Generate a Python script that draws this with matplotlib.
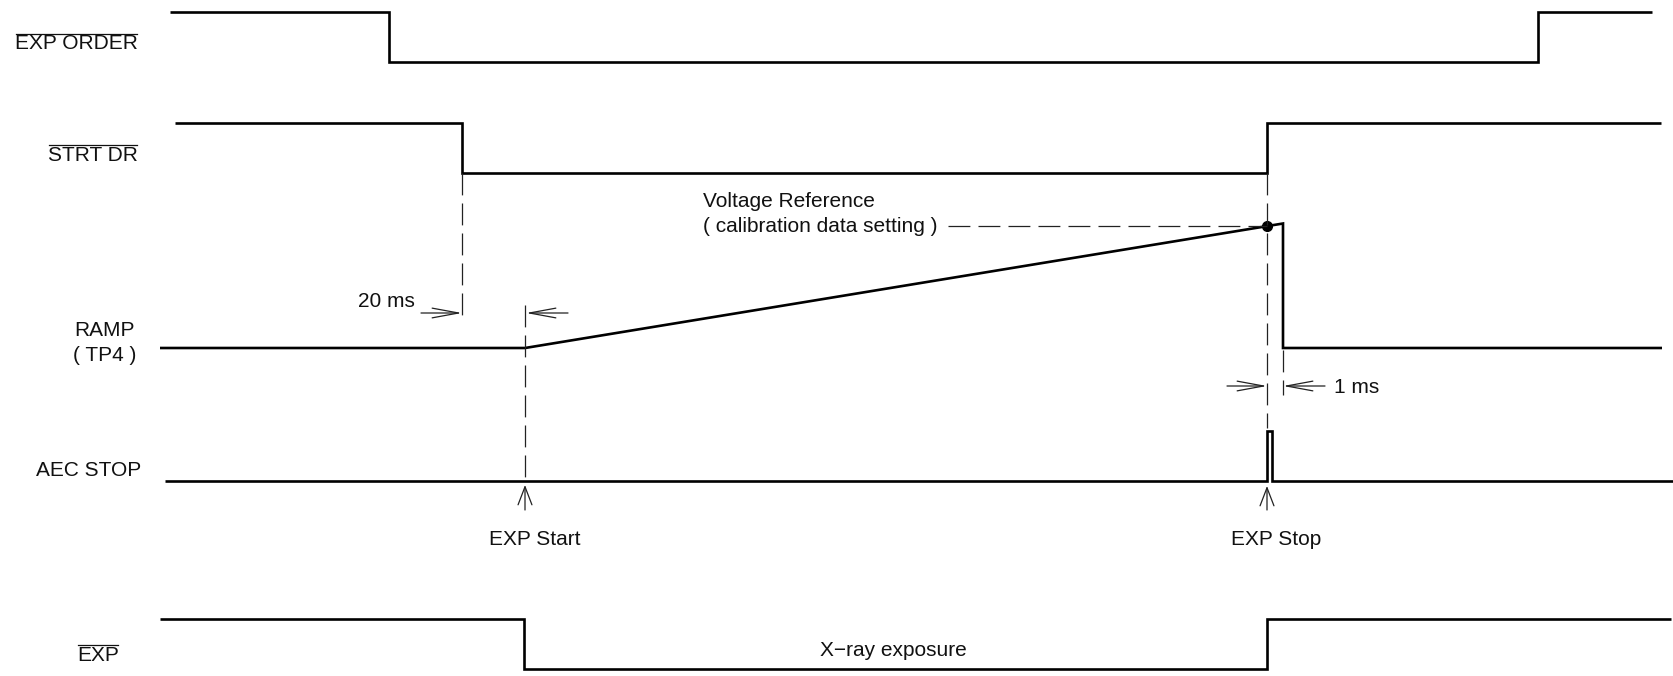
import numpy as np
import matplotlib
matplotlib.use('Agg')
import matplotlib.pyplot as plt
from matplotlib.patches import FancyArrowPatch

plt.rcParams['font.family'] = ['Liberation Sans', 'DejaVu Sans']

# time axis is in drawing units (0..1674 across the sheet)
exp_order_t = [170, 389, 389, 1538, 1538, 1652]
exp_order_v = [1, 1, 0, 0, 1, 1]

strt_dr_t = [175, 462, 462, 1267, 1267, 1661]
strt_dr_v = [1, 1, 0, 0, 1, 1]

ramp_t = [160, 525, 1283, 1283, 1662]
ramp_v = [0, 0, 1, 0, 0]

aec_t = [165, 1267, 1267, 1272, 1272, 1674]
aec_v = [0, 0, 1, 1, 0, 0]

exp_t = [160, 524, 524, 1267, 1267, 1671]
exp_v = [1, 1, 0, 0, 1, 1]

t_strt_fall = 462
t_exp_start = 525
t_exp_stop = 1267
t_ramp_reset = 1283

# row levels: (y at level 0, y at level 1)
rows = {
    'exp_order': (62, 11.7),
    'strt_dr': (173, 122.5),
    'ramp': (348, 223.5),
    'aec': (481, 430.5),
    'exp': (669, 619),
}

fig = plt.figure(figsize=(16.74, 6.76), dpi=100)
ax = fig.add_axes([0, 0, 1, 1])
ax.set_xlim(0, 1674)
ax.set_ylim(676, 0)
ax.axis('off')

FS = 15
LW = 1.9


def level_y(row, v):
    lo, hi = rows[row]
    return lo + (hi - lo) * np.asarray(v, dtype=float)


def wave(t, v, row):
    ax.plot(t, level_y(row, v), color='black', lw=LW,
            solid_joinstyle='miter', solid_capstyle='butt')


def dashed(xs, ys):
    ax.plot(xs, ys, color='#222222', lw=0.9, linestyle=(0, (17.5, 6.5)))


def arrow(x0, y0, x1, y1, hl=1.9, hw=0.35):
    a = FancyArrowPatch((x0, y0), (x1, y1),
                        arrowstyle='->,head_length=%g,head_width=%g' % (hl, hw),
                        mutation_scale=10, lw=0.9, color='#222222',
                        shrinkA=0, shrinkB=0)
    ax.add_patch(a)


def label(x, y, s, ha='left', over=None):
    t = ax.text(x, y, s, fontsize=FS, ha=ha, va='baseline', color='#111111')
    if over is not None:
        fig.canvas.draw()
        bb = t.get_window_extent().transformed(ax.transData.inverted())
        ax.plot([bb.x0 + 1, bb.x1 - 1], [over, over], color='#111111', lw=0.9)
    return t


wave(exp_order_t, exp_order_v, 'exp_order')
wave(strt_dr_t, strt_dr_v, 'strt_dr')
wave(ramp_t, ramp_v, 'ramp')
wave(aec_t, aec_v, 'aec')
wave(exp_t, exp_v, 'exp')

# voltage reference point where the ramp is stopped
ramp_y = level_y('ramp', ramp_v)
ref_y = np.interp(t_exp_stop, ramp_t[1:3], ramp_y[1:3])
ax.plot([t_exp_stop], [ref_y], 'o', color='black', ms=7)
dashed([948, t_exp_stop], [ref_y, ref_y])

# guide lines
dashed([t_strt_fall, t_strt_fall], [rows['strt_dr'][0], 323])
dashed([t_exp_start, t_exp_start], [305, 478])
dashed([t_exp_stop, t_exp_stop], [rows['strt_dr'][0], 428])
dashed([t_ramp_reset, t_ramp_reset], [350, 395])

# delay markers
arrow(421, 313, t_strt_fall, 313)
arrow(568, 313, t_exp_start + 1, 313)
arrow(1227, 386, t_exp_stop, 386)
arrow(1325, 386, t_ramp_reset, 386)
arrow(t_exp_start, 510, t_exp_start, 485, hl=1.3, hw=0.5)
arrow(t_exp_stop, 510, t_exp_stop, 486, hl=1.3, hw=0.5)

# signal names
label(15, 49, 'EXP ORDER', over=33.5)
label(48, 160.7, 'STRT DR', over=144.5)
label(105, 336, 'RAMP', ha='center')
label(105, 361, '( TP4 )', ha='center')
label(36, 476, 'AEC STOP')
label(77, 661, 'EXP', over=645)

# annotations
label(358, 307, '20 ms')
label(703, 207, 'Voltage Reference')
label(703, 232, '( calibration data setting )')
label(1334, 393, '1 ms')
label(489, 545, 'EXP Start')
label(1231, 545, 'EXP Stop')
label(820, 656, 'X\u2212ray exposure')

fig.savefig('out.png', dpi=100, facecolor='white')
